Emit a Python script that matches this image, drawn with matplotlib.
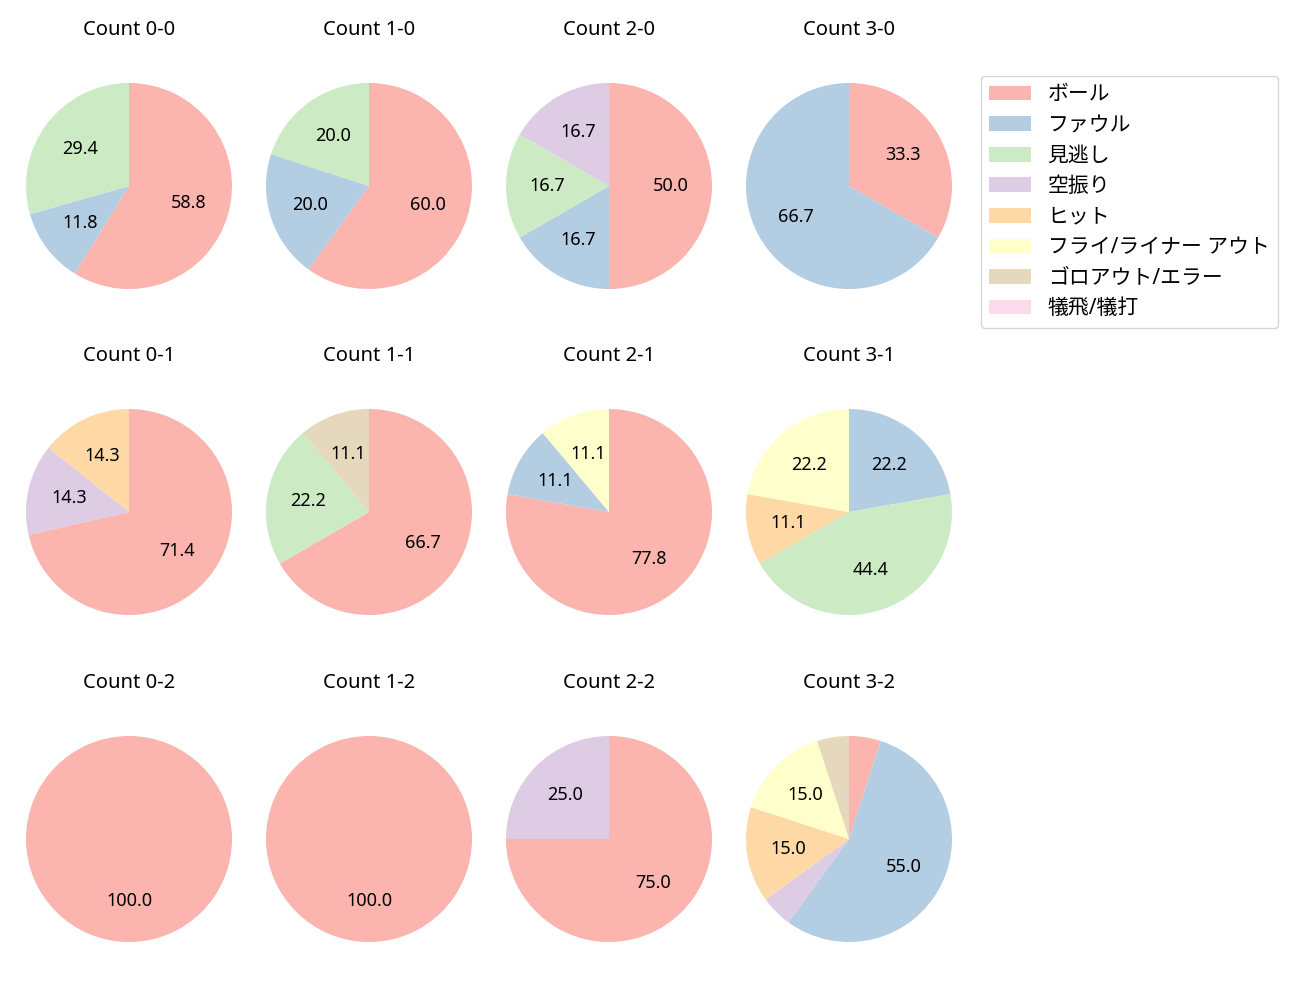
import matplotlib
matplotlib.use("Agg")
import matplotlib.pyplot as plt

plt.rcParams['font.family'] = ['Noto Sans', 'Noto Sans CJK JP', 'DejaVu Sans']

categories = ["ボール", "ファウル", "見逃し", "空振り", "ヒット",
              "フライ/ライナー アウト", "ゴロアウト/エラー", "犠飛/犠打"]
titles = ["Count 0-0", "Count 1-0", "Count 2-0", "Count 3-0",
          "Count 0-1", "Count 1-1", "Count 2-1", "Count 3-1",
          "Count 0-2", "Count 1-2", "Count 2-2", "Count 3-2"]
c00 = [10, 2, 5, 0, 0, 0, 0, 0]
c10 = [3, 1, 1, 0, 0, 0, 0, 0]
c20 = [3, 1, 1, 1, 0, 0, 0, 0]
c30 = [1, 2, 0, 0, 0, 0, 0, 0]
c01 = [5, 0, 0, 1, 1, 0, 0, 0]
c11 = [6, 0, 2, 0, 0, 0, 1, 0]
c21 = [7, 1, 0, 0, 0, 1, 0, 0]
c31 = [0, 2, 4, 0, 1, 2, 0, 0]
c02 = [1, 0, 0, 0, 0, 0, 0, 0]
c12 = [1, 0, 0, 0, 0, 0, 0, 0]
c22 = [3, 0, 0, 1, 0, 0, 0, 0]
c32 = [1, 11, 0, 1, 3, 3, 1, 0]
counts = [c00, c10, c20, c30, c01, c11, c21, c31, c02, c12, c22, c32]

colors = plt.cm.Pastel1.colors[:8]

W, H = 1300, 1000
fig = plt.figure(figsize=(13, 10), dpi=100)

xc = [129, 369, 609, 849]
yc = [186, 512, 839]
R = 103
S = 2.5 * R

def autopct(p):
    return f"{p:.1f}" if p >= 10 else ""

handles = None
for i, (t, vals) in enumerate(zip(titles, counts)):
    r, c = divmod(i, 4)
    cx, cy = xc[c], yc[r]
    ax = fig.add_axes([(cx - S / 2) / W, 1 - (cy + S / 2) / H, S / W, S / H])
    wedges, _, _ = ax.pie(vals, colors=colors, startangle=90, counterclock=False,
                          autopct=autopct, textprops={'fontsize': 13})
    ax.set_xlim(-1.25, 1.25)
    ax.set_ylim(-1.25, 1.25)
    ax.set_aspect('equal')
    ax.set_title(t, fontsize=14.5, pad=16)
    if handles is None:
        handles = wedges

fig.legend(handles, categories, loc='upper left',
           bbox_to_anchor=(981 / W, 1 - 76 / H), fontsize=15, borderaxespad=0,
           labelspacing=0.46)
fig.savefig("out.png", dpi=100)
